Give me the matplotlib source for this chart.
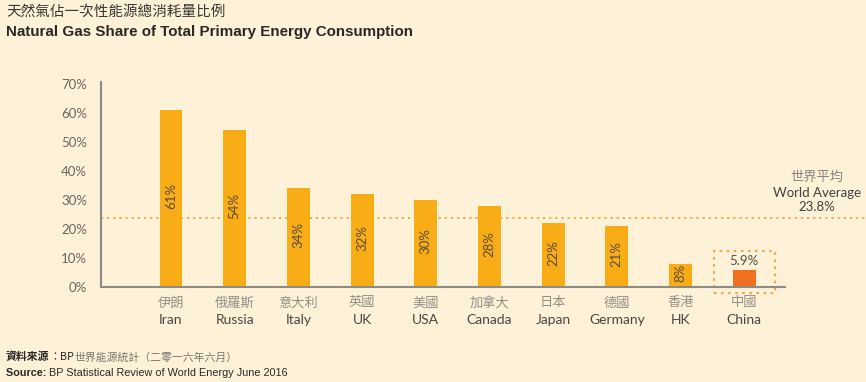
import matplotlib
matplotlib.use("Agg")
import matplotlib.pyplot as plt
from matplotlib.patches import Rectangle

# data
names_zh = ["伊朗", "俄羅斯", "意大利", "英國", "美國", "加拿大", "日本", "德國", "香港", "中國"]
names_en = ["Iran", "Russia", "Italy", "UK", "USA", "Canada", "Japan", "Germany", "HK", "China"]
shares = [61, 54, 34, 32, 30, 28, 22, 21, 8, 5.9]
labels = ["61%", "54%", "34%", "32%", "30%", "28%", "22%", "21%", "8%", "5.9%"]
world_avg = 23.8
yticks = [0, 10, 20, 30, 40, 50, 60, 70]

BG = "#FDF2D8"
BAR = "#F8AD17"
CHINA = "#F07020"
DOT = "#F3A640"
CJK = ["Noto Sans CJK TC", "DejaVu Sans"]
LAT = ["Lato", "DejaVu Sans"]

W, H = 866, 382
fig = plt.figure(figsize=(W / 100, H / 100), dpi=100, facecolor=BG)
ax = fig.add_axes([101 / W, (H - 287) / H, (W - 101) / W, (287 - 82) / H])
ax.set_facecolor(BG)

step = 63.7
x0 = (101 - 171) / step
ax.set_xlim(x0, x0 + (W - 101) / step)
ax.set_ylim(0, 70.7)

xs = list(range(len(shares)))
colors = [BAR] * (len(shares) - 1) + [CHINA]
ax.bar(xs, shares, width=0.36, color=colors, zorder=2)

# value labels
for i, (v, lab) in enumerate(zip(shares, labels)):
    if i == len(shares) - 1:
        ax.text(i, v + 1.0, lab, ha="center", va="bottom", fontsize=9.5,
                color="#555049", family=LAT)
    else:
        ax.text(i, v / 2 + 0.8, lab, ha="center", va="center", rotation=90,
                fontsize=9.5, color="#5a4a30", family=LAT, zorder=3)

# world average
ax.axhline(world_avg, color=DOT, linestyle=(0, (1.2, 2.2)), linewidth=1.3, zorder=1)
ax.text(10.14, 37.9, "世界平均", ha="center", va="center", fontsize=9.5,
        color="#888380", family=CJK)
ax.text(10.14, 32.4, "World Average", ha="center", va="center", fontsize=9.5,
        color="#444040", family=LAT)
ax.text(10.14, 27.6, "23.8%", ha="center", va="center", fontsize=9.5,
        color="#444040", family=LAT)

# china highlight box
ax.add_patch(Rectangle((8.52, -2.07), 0.96, 14.5, fill=False, edgecolor=DOT,
                       linestyle=(0, (1.2, 2.2)), linewidth=1.5, clip_on=False, zorder=1))

# axes lines
ax.plot([x0, (785 - 171) / step], [0, 0], color="#8e8a84", linewidth=1.5,
        clip_on=False, zorder=3)
for s in ["top", "right", "bottom"]:
    ax.spines[s].set_visible(False)
ax.spines["left"].set_color("#8e8a84")
ax.spines["left"].set_linewidth(1.5)

ax.set_yticks(yticks)
ax.set_yticklabels([f"{t}%" for t in yticks], family=LAT, fontsize=9.5, color="#6a6560")
ax.tick_params(axis="y", length=0, pad=10)
ax.set_xticks([])

# category labels
for i in xs:
    ax.text(i, -5.5, names_zh[i], ha="center", va="center", fontsize=9.5,
            color="#938e88", family=CJK, clip_on=False)
    ax.text(i, -11.4, names_en[i], ha="center", va="center", fontsize=10,
            color="#4a4642", family=LAT, clip_on=False)

# titles
fig.text(6 / W, 1 - 12 / H, "天然氣佔一次性能源總消耗量比例", fontsize=10.5, color="#3a3633",
         family=CJK, fontweight="medium", va="center", ha="left")
fig.text(6 / W, 1 - 32 / H, "Natural Gas Share of Total Primary Energy Consumption",
         fontsize=10.9, fontweight="bold", color="#2a2725", family=["Liberation Sans"],
         va="center", ha="left")

# footer with mixed styles
renderer = fig.canvas.get_renderer()


def run_text(parts, y):
    x = 6 / W
    for txt, weight, col, fam in parts:
        t = fig.text(x, y, txt, fontsize=7.8, fontweight=weight, color=col, family=fam,
                     va="center", ha="left")
        bb = t.get_window_extent(renderer)
        x += bb.width / W


run_text([("資料來源", "bold", "#2a2725", CJK),
          ("：BP", "normal", "#2a2725", CJK),
          ("世界能源統計（二零一六年六月）", "normal", "#7a7570", CJK)], 1 - 357 / H)
run_text([("Source: ", "bold", "#2a2725", ["Liberation Sans"]),
          ("BP Statistical Review of World Energy June 2016", "normal", "#2a2725",
           ["Liberation Sans"])], 1 - 373 / H)

fig.savefig("out.png", dpi=100, facecolor=BG)
